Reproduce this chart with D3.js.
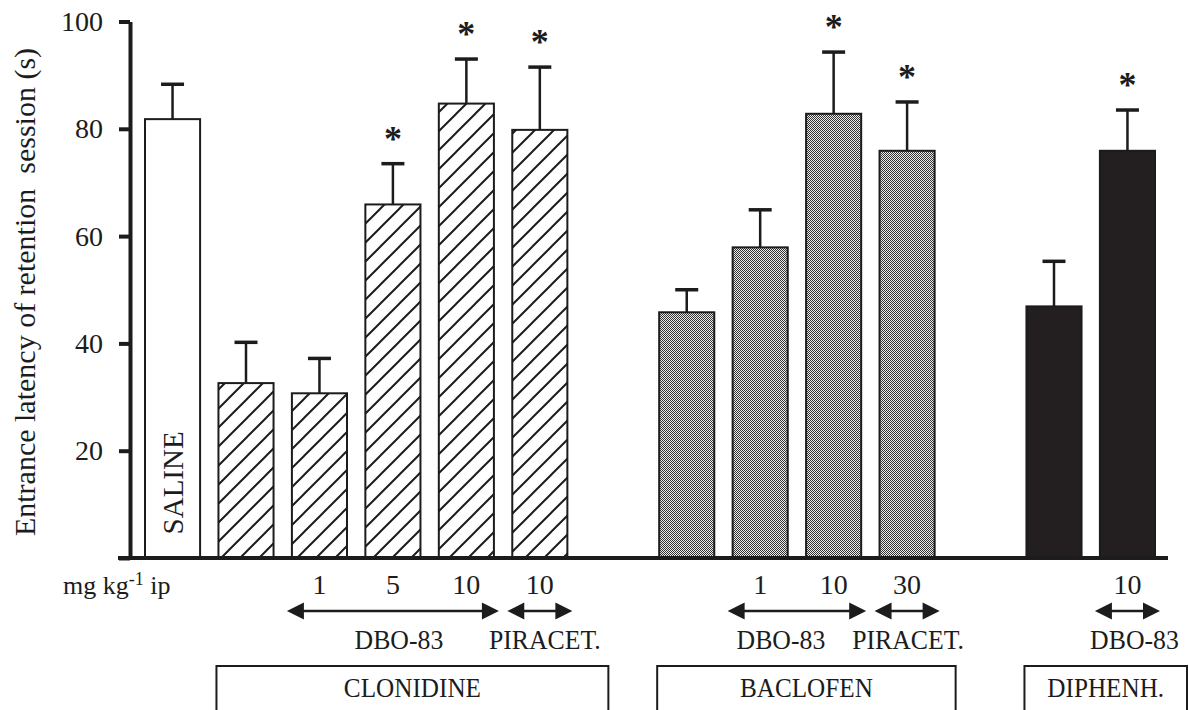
<!DOCTYPE html>
<html>
<head>
<meta charset="utf-8">
<script src="https://cdn.jsdelivr.net/npm/d3@7"></script>
<style>
  body { margin: 0; background: #fff; }
  text { font-family: "Liberation Serif", "Times New Roman", serif; fill: #1c1c1c; }
</style>
</head>
<body>
<div id="chart"></div>
<script>
/* DATA */
// slot order along the x axis (the gap slots leave room between drug groups)
const slots = ["saline", "clon", "clon_dbo1", "clon_dbo5", "clon_dbo10", "clon_pir10", "gap1",
  "bacl", "bacl_dbo1", "bacl_dbo10", "bacl_pir30", "gap2", "diph", "diph_dbo10"];

const barIds = ["saline", "clon", "clon_dbo1", "clon_dbo5", "clon_dbo10", "clon_pir10",
  "bacl", "bacl_dbo1", "bacl_dbo10", "bacl_pir30", "diph", "diph_dbo10"];
const drugs = ["saline", "clonidine", "clonidine", "clonidine", "clonidine", "clonidine",
  "baclofen", "baclofen", "baclofen", "baclofen", "diphenh", "diphenh"];
const means = [81.8, 32.6, 30.7, 65.9, 84.7, 79.8, 45.8, 57.9, 82.8, 75.9, 46.9, 75.9];
const sems = [6.5, 7.6, 6.5, 7.6, 8.3, 11.7, 4.2, 7.0, 11.5, 9.1, 8.4, 7.6];
const doses = ["", "", "1", "5", "10", "10", "", "1", "10", "30", "", "10"];
const starred = [false, false, false, true, true, true, false, false, true, true, false, true];

const yTicks = [0, 20, 40, 60, 80, 100];

const arrowFrom = ["clon_dbo1", "clon_pir10", "bacl_dbo1", "bacl_pir30", "diph_dbo10"];
const arrowTo = ["clon_dbo10", "clon_pir10", "bacl_dbo10", "bacl_pir30", "diph_dbo10"];
const arrowLabels = ["DBO-83", "PIRACET.", "DBO-83", "PIRACET.", "DBO-83"];

const boxLabels = ["CLONIDINE", "BACLOFEN", "DIPHENH."];
const boxFrom = ["clon", "bacl", "diph"];
const boxTo = ["clon_pir10", "bacl_pir30", "diph_dbo10"];

/* LAYOUT */
const width = 1189, height = 710;
const axisX = 130, baseY = 558, topY = 21.5;
const boxPadRight = [41, 21, 32];
const arrowLabelShift = [6, 5, -16, 1, 7];
const ink = "#1c1c1c";

const svg = d3.select("#chart").append("svg")
  .attr("width", width)
  .attr("height", height);

const defs = svg.append("defs");

// hatch for clonidine bars
const hatch = defs.append("pattern")
  .attr("id", "hatch")
  .attr("patternUnits", "userSpaceOnUse")
  .attr("width", 19).attr("height", 19);
hatch.append("rect").attr("width", 19).attr("height", 19).attr("fill", "#fff");
hatch.append("path")
  .attr("d", "M-2,2 L2,-2 M0,19 L19,0 M17,21 L21,17")
  .attr("stroke", ink).attr("stroke-width", 2);

// fine dither for baclofen bars
const dots = defs.append("pattern")
  .attr("id", "dots")
  .attr("patternUnits", "userSpaceOnUse")
  .attr("width", 2).attr("height", 2);
dots.append("rect").attr("width", 2).attr("height", 2).attr("fill", "#ececec");
dots.append("rect").attr("width", 1).attr("height", 1).attr("fill", "#333");
dots.append("rect").attr("x", 1).attr("y", 1).attr("width", 1).attr("height", 1).attr("fill", "#333");

const fillFor = {
  saline: "#fff",
  clonidine: "url(#hatch)",
  baclofen: "url(#dots)",
  diphenh: "#231f20"
};

/* SCALES */
const x = d3.scaleBand()
  .domain(slots)
  .range([145, 1155])
  .paddingInner(0.25)
  .paddingOuter(0);

const y = d3.scaleLinear()
  .domain([0, 100])
  .range([baseY, topY]);

const bw = x.bandwidth();

const data = barIds.map((id, i) => ({
  id, drug: drugs[i], mean: means[i], sem: sems[i], dose: doses[i], star: starred[i]
}));

/* BARS */
svg.append("g")
  .selectAll("rect")
  .data(data)
  .join("rect")
    .attr("x", d => x(d.id))
    .attr("y", d => y(d.mean))
    .attr("width", bw)
    .attr("height", d => y(0) - y(d.mean))
    .attr("fill", d => fillFor[d.drug])
    .attr("stroke", ink)
    .attr("stroke-width", 2);

/* ERROR BARS */
const err = svg.append("g").attr("stroke", ink);
err.selectAll("line.stem")
  .data(data)
  .join("line")
    .attr("class", "stem")
    .attr("x1", d => x(d.id) + bw / 2)
    .attr("x2", d => x(d.id) + bw / 2)
    .attr("y1", d => y(d.mean))
    .attr("y2", d => y(d.mean + d.sem))
    .attr("stroke-width", 2.5);
err.selectAll("line.cap")
  .data(data)
  .join("line")
    .attr("class", "cap")
    .attr("x1", d => x(d.id) + bw / 2 - 11.5)
    .attr("x2", d => x(d.id) + bw / 2 + 11.5)
    .attr("y1", d => y(d.mean + d.sem))
    .attr("y2", d => y(d.mean + d.sem))
    .attr("stroke-width", 3.5);

/* SIGNIFICANCE STARS */
svg.append("g")
  .selectAll("text")
  .data(data.filter(d => d.star))
  .join("text")
    .attr("x", d => x(d.id) + bw / 2)
    .attr("y", d => y(d.mean + d.sem) - 13)
    .attr("text-anchor", "middle")
    .attr("font-size", 36)
    .attr("font-weight", "bold")
    .text("*");

/* Y AXIS */
const yAxis = d3.axisLeft(y)
  .tickValues(yTicks)
  .tickSize(11)
  .tickSizeOuter(0)
  .tickPadding(16)
  .tickFormat(d => d === 0 ? "" : d);

const gy = svg.append("g")
  .attr("transform", `translate(${axisX},0)`)
  .call(yAxis);
gy.select(".domain").attr("stroke", ink).attr("stroke-width", 4);
gy.selectAll(".tick line").attr("stroke", ink).attr("stroke-width", 4);
gy.selectAll(".tick text")
  .attr("font-size", 28)
  .attr("font-family", "Liberation Serif, serif")
  .attr("fill", ink);

// baseline
svg.append("line")
  .attr("x1", axisX - 12)
  .attr("x2", x("diph_dbo10") + bw + 13)
  .attr("y1", y(0)).attr("y2", y(0))
  .attr("stroke", ink)
  .attr("stroke-width", 4);

svg.append("text")
  .attr("transform", `translate(35,292) rotate(-90)`)
  .attr("text-anchor", "middle")
  .attr("font-size", 30)
  .attr("xml:space", "preserve")
  .text("Entrance latency of retention  session (s)");

// SALINE label inside its bar
svg.append("text")
  .attr("transform", `translate(${x("saline") + bw / 2 + 10.5},${y(14)}) rotate(-90)`)
  .attr("text-anchor", "middle")
  .attr("font-size", 29)
  .text("SALINE");

/* X LABELS */
const unit = svg.append("text")
  .attr("x", 63).attr("y", 594)
  .attr("font-size", 26);
unit.append("tspan").text("mg kg");
unit.append("tspan").attr("font-size", 18).attr("dy", -9).text("-1");
unit.append("tspan").attr("dy", 9).text(" ip");

svg.append("g")
  .selectAll("text")
  .data(data.filter(d => d.dose !== ""))
  .join("text")
    .attr("x", d => x(d.id) + bw / 2)
    .attr("y", 594)
    .attr("text-anchor", "middle")
    .attr("font-size", 28)
    .text(d => d.dose);

/* ARROWS */
const arrowY = 611, head = 17, half = 8.5;
const arrows = arrowFrom.map((f, i) => ({
  x1: x(f) - 5,
  x2: x(arrowTo[i]) + bw + 5,
  label: arrowLabels[i],
  shift: arrowLabelShift[i]
}));

const ga = svg.append("g");
ga.selectAll("line")
  .data(arrows)
  .join("line")
    .attr("x1", d => d.x1 + head - 2)
    .attr("x2", d => d.x2 - head + 2)
    .attr("y1", arrowY).attr("y2", arrowY)
    .attr("stroke", ink)
    .attr("stroke-width", 2.5);
ga.selectAll("path")
  .data(arrows)
  .join("path")
    .attr("d", d => `M${d.x1},${arrowY} L${d.x1 + head},${arrowY - half} L${d.x1 + head},${arrowY + half} Z` +
      `M${d.x2},${arrowY} L${d.x2 - head},${arrowY - half} L${d.x2 - head},${arrowY + half} Z`)
    .attr("fill", ink);
ga.selectAll("text")
  .data(arrows)
  .join("text")
    .attr("transform", d => `translate(${(d.x1 + d.x2) / 2 + d.shift},649) scale(0.92,1)`)
    .attr("text-anchor", "middle")
    .attr("font-size", 28)
    .text(d => d.label);

/* GROUP BOXES */
const boxes = boxLabels.map((label, i) => ({
  label,
  left: x(boxFrom[i]) - 2,
  right: x(boxTo[i]) + bw + boxPadRight[i]
}));

const gb = svg.append("g");
gb.selectAll("rect")
  .data(boxes)
  .join("rect")
    .attr("x", d => d.left)
    .attr("y", 666)
    .attr("width", d => d.right - d.left)
    .attr("height", 60)
    .attr("fill", "none")
    .attr("stroke", ink)
    .attr("stroke-width", 2);
gb.selectAll("text")
  .data(boxes)
  .join("text")
    .attr("transform", d => `translate(${(d.left + d.right) / 2},697) scale(0.9,1)`)
    .attr("text-anchor", "middle")
    .attr("font-size", 28)
    .text(d => d.label);
</script>
</body>
</html>
